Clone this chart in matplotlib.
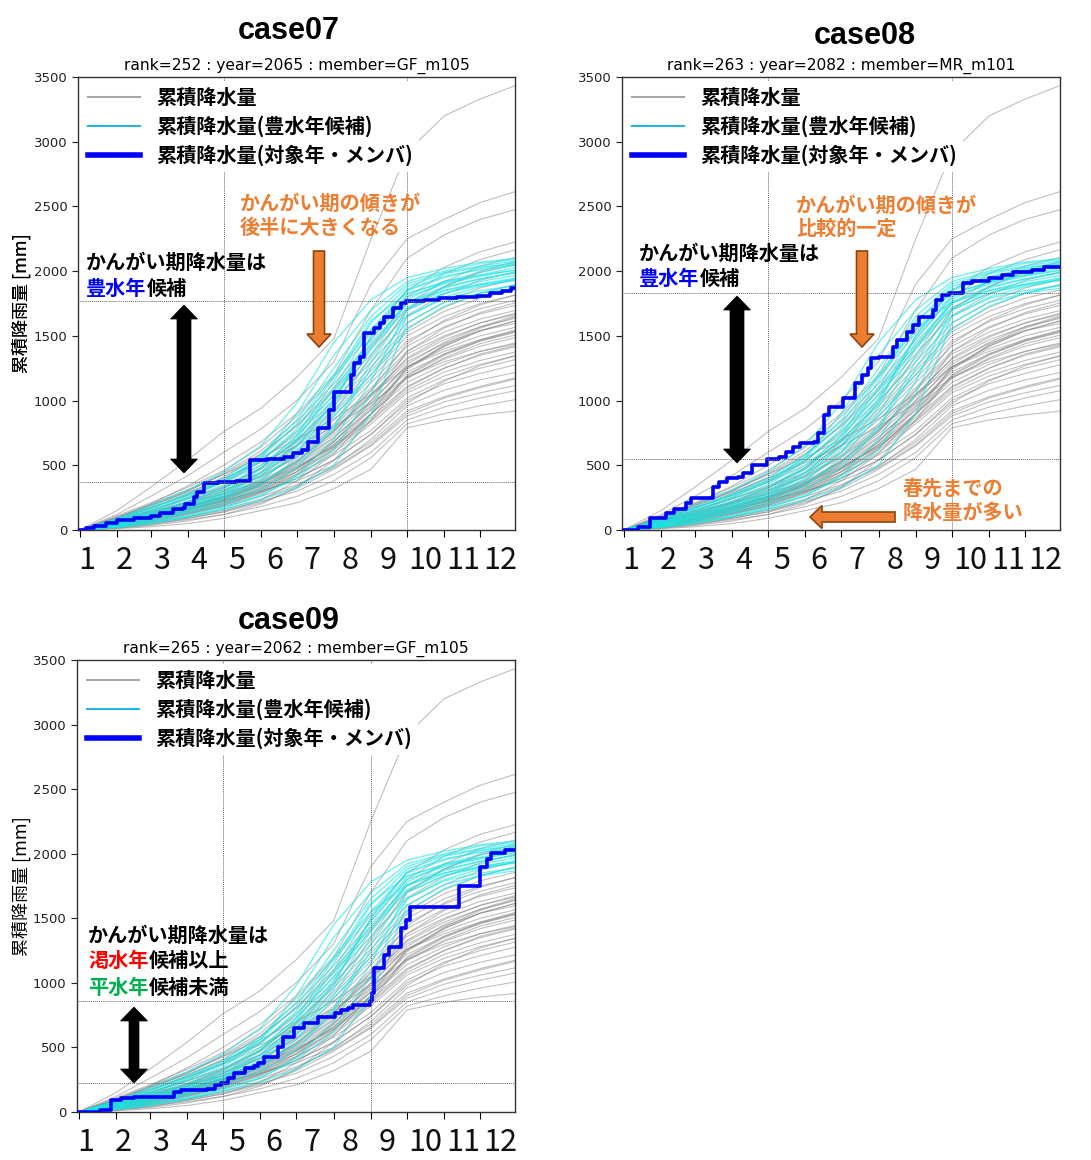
import numpy as np
import matplotlib
matplotlib.use("Agg")
import matplotlib.pyplot as plt
from matplotlib.lines import Line2D
from matplotlib.patches import Polygon
from matplotlib.text import Annotation

W, H = 1091, 1160
JP = ['Noto Sans CJK JP', 'DejaVu Sans']

# ---- axis layout data -------------------------------------------------------
MONTH_START = [0, 31, 59, 90, 120, 151, 181, 212, 243, 273, 304, 334, 365]
MONTH_LABELS = [str(m) for m in range(1, 13)]
Y_TICKS = [0, 500, 1000, 1500, 2000, 2500, 3000, 3500]

# ---- ensemble: cumulative precipitation [mm] at each month start -----------
GRAY_MEMBERS = [
    [0, 10, 25, 50, 90, 150, 210, 320, 470, 790, 850, 890, 920],
    [0, 20, 45, 80, 120, 180, 260, 380, 560, 820, 900, 960, 1010],
    [0, 30, 60, 100, 150, 220, 300, 430, 600, 850, 950, 1020, 1080],
    [0, 15, 40, 90, 140, 210, 320, 470, 650, 880, 990, 1060, 1120],
    [0, 40, 80, 130, 180, 260, 350, 480, 660, 900, 1020, 1100, 1170],
    [0, 60, 110, 170, 230, 300, 380, 500, 680, 920, 1030, 1110, 1180],
    [0, 25, 55, 100, 160, 240, 340, 490, 700, 960, 1080, 1160, 1220],
    [0, 35, 75, 140, 200, 290, 400, 540, 740, 1000, 1130, 1210, 1280],
    [0, 50, 100, 160, 220, 310, 430, 580, 770, 1020, 1160, 1250, 1320],
    [0, 20, 60, 120, 190, 280, 420, 600, 820, 1060, 1190, 1280, 1350],
    [0, 45, 90, 150, 230, 330, 450, 620, 840, 1080, 1220, 1310, 1380],
    [0, 40, 80, 140, 210, 300, 400, 540, 740, 980, 1150, 1270, 1350],
    [0, 100, 190, 290, 400, 520, 650, 800, 980, 1180, 1300, 1380, 1440],
    [0, 60, 120, 190, 260, 360, 480, 650, 870, 1110, 1250, 1350, 1420],
    [0, 30, 70, 130, 210, 320, 470, 660, 900, 1140, 1280, 1380, 1450],
    [0, 80, 140, 210, 280, 370, 490, 640, 850, 1100, 1250, 1360, 1430],
    [0, 55, 110, 180, 250, 350, 500, 690, 930, 1180, 1320, 1420, 1490],
    [0, 40, 90, 160, 240, 360, 520, 720, 960, 1220, 1360, 1460, 1530],
    [0, 90, 180, 300, 430, 560, 700, 860, 1050, 1260, 1380, 1470, 1540],
    [0, 70, 130, 200, 280, 380, 530, 740, 1000, 1260, 1400, 1500, 1570],
    [0, 15, 35, 70, 120, 200, 330, 540, 850, 1200, 1360, 1470, 1550],
    [0, 35, 85, 150, 230, 350, 540, 760, 1030, 1300, 1440, 1540, 1600],
    [0, 65, 130, 210, 300, 410, 560, 770, 1050, 1320, 1470, 1570, 1640],
    [0, 25, 50, 90, 140, 230, 380, 590, 900, 1260, 1420, 1540, 1620],
    [0, 50, 100, 170, 260, 390, 580, 800, 1080, 1360, 1500, 1600, 1670],
    [0, 80, 150, 240, 330, 440, 600, 820, 1100, 1380, 1530, 1630, 1700],
    [0, 45, 95, 160, 240, 340, 480, 680, 950, 1250, 1430, 1560, 1650],
    [0, 65, 120, 180, 250, 340, 470, 660, 930, 1240, 1420, 1540, 1620],
    [0, 40, 85, 150, 220, 320, 450, 640, 890, 1170, 1330, 1440, 1510],
    [0, 70, 140, 220, 310, 420, 570, 780, 1040, 1330, 1490, 1600, 1680],
    [0, 30, 65, 120, 190, 290, 430, 630, 900, 1190, 1350, 1460, 1540],
    [0, 55, 105, 170, 250, 360, 510, 710, 980, 1280, 1450, 1570, 1660],
    [0, 45, 100, 180, 280, 420, 620, 850, 1140, 1420, 1570, 1670, 1740],
    [0, 75, 150, 240, 340, 470, 650, 880, 1170, 1460, 1610, 1710, 1780],
    [0, 60, 120, 200, 300, 450, 660, 910, 1200, 1500, 1650, 1750, 1820],
    [0, 90, 170, 270, 370, 500, 680, 930, 1230, 1530, 1690, 1790, 1860],
    [0, 55, 120, 210, 320, 480, 700, 960, 1260, 1560, 1720, 1830, 1900],
    [0, 85, 170, 270, 390, 540, 740, 1000, 1300, 1600, 1760, 1870, 1940],
    [0, 30, 70, 130, 200, 300, 450, 680, 1000, 1380, 1560, 1680, 1760],
    [0, 50, 110, 180, 260, 370, 530, 760, 1080, 1440, 1620, 1740, 1820],
    [0, 70, 150, 250, 370, 530, 760, 1040, 1360, 1660, 1820, 1930, 2000],
    [0, 100, 200, 310, 430, 590, 800, 1080, 1400, 1710, 1880, 1990, 2060],
    [0, 80, 170, 280, 410, 580, 810, 1100, 1430, 1750, 1920, 2040, 2110],
    [0, 95, 190, 300, 440, 610, 840, 1130, 1470, 1800, 1980, 2090, 2170],
    [0, 110, 210, 330, 460, 640, 880, 1180, 1520, 1850, 2030, 2150, 2230],
    [0, 60, 130, 220, 330, 480, 690, 980, 1330, 1700, 1880, 2000, 2080],
    [0, 150, 330, 540, 760, 940, 1180, 1480, 2250, 2920, 3200, 3330, 3440],
    [0, 120, 260, 420, 600, 780, 1000, 1300, 1900, 2250, 2400, 2530, 2620],
    [0, 90, 200, 340, 500, 680, 900, 1200, 1700, 2100, 2280, 2400, 2480],
]

# wet-year candidates (豊水年候補)
CYAN_MEMBERS = [
    [0, 60, 130, 220, 330, 500, 720, 1050, 1450, 1750, 1870, 1940, 1990],
    [0, 40, 90, 160, 250, 380, 600, 950, 1400, 1780, 1920, 1990, 2050],
    [0, 80, 170, 280, 400, 580, 850, 1250, 1650, 1900, 1990, 2040, 2080],
    [0, 30, 70, 130, 200, 310, 480, 780, 1250, 1650, 1800, 1880, 1940],
    [0, 50, 110, 190, 300, 470, 700, 1100, 1550, 1850, 1950, 2020, 2070],
    [0, 20, 50, 100, 160, 230, 330, 500, 900, 1600, 1760, 1830, 1870],
    [0, 70, 150, 250, 380, 560, 820, 1200, 1550, 1760, 1850, 1900, 1940],
    [0, 45, 100, 180, 270, 420, 650, 1000, 1500, 1820, 1920, 1970, 2010],
    [0, 90, 190, 310, 450, 650, 980, 1450, 1780, 1950, 2020, 2070, 2100],
    [0, 35, 80, 150, 240, 360, 520, 800, 1300, 1700, 1830, 1900, 1950],
    [0, 55, 120, 210, 320, 480, 730, 1150, 1600, 1880, 1980, 2030, 2060],
    [0, 25, 60, 110, 180, 270, 400, 620, 1050, 1650, 1790, 1850, 1890],
    [0, 65, 140, 240, 350, 530, 780, 1180, 1620, 1830, 1910, 1970, 2030],
    [0, 40, 95, 170, 260, 400, 600, 900, 1350, 1760, 1880, 1940, 1990],
    [0, 75, 160, 260, 370, 540, 760, 1080, 1480, 1800, 1900, 1960, 2010],
    [0, 30, 75, 140, 220, 340, 560, 880, 1200, 1550, 1730, 1830, 1900],
    [0, 85, 170, 270, 380, 560, 900, 1350, 1700, 1920, 2000, 2060, 2090],
    [0, 50, 105, 180, 280, 440, 680, 1020, 1420, 1720, 1850, 1920, 1970],
    [0, 20, 55, 105, 170, 260, 420, 700, 1150, 1700, 1830, 1890, 1930],
    [0, 60, 125, 200, 290, 440, 640, 980, 1500, 1860, 1960, 2010, 2050],
]

# ---- target year / member, step breakpoints (day of year, cumulative mm) ----
CASE07_DAYS = [0, 5, 12, 22, 31, 45, 59, 67, 78, 86, 88, 95, 98, 104, 115, 130, 142, 156,
               170, 178, 185, 190, 199, 208, 212, 226, 229, 234, 237, 245, 250, 254, 261,
               268, 272, 287, 300, 315, 331, 342, 352, 360]
CASE07_MM = [0, 15, 31, 55, 77, 95, 108, 129, 162, 170, 201, 255, 294, 363, 371, 382, 541, 547,
             564, 595, 618, 680, 788, 927, 1066, 1198, 1290, 1337, 1522, 1561, 1600, 1646, 1715,
             1754, 1770, 1777, 1790, 1800, 1810, 1831, 1845, 1870]

CASE08_DAYS = [0, 12, 22, 35, 42, 52, 56, 74, 79, 86, 95, 99, 107, 119, 129, 135, 141, 147,
               158, 162, 167, 171, 182, 192, 198, 203, 206, 212, 224, 227, 236, 241, 246,
               257, 260, 265, 271, 282, 290, 304, 315, 324, 340, 350]
CASE08_MM = [0, 23, 93, 129, 160, 206, 245, 335, 373, 400, 410, 440, 502, 545, 565, 603, 641, 670,
             682, 750, 888, 951, 1017, 1133, 1198, 1250, 1327, 1340, 1416, 1468, 1530, 1584, 1646,
             1700, 1777, 1816, 1831, 1909, 1920, 1947, 1970, 1994, 2010, 2032]

CASE09_DAYS = [0, 18, 27, 35, 46, 79, 85, 107, 113, 118, 124, 129, 138, 146, 149, 154, 166,
               170, 179, 187, 199, 213, 218, 224, 228, 242, 244, 246, 254, 258, 268, 272, 276,
               316, 334, 340, 343, 355]
CASE09_MM = [0, 15, 93, 105, 116, 155, 168, 178, 210, 224, 263, 302, 340, 353, 379, 426, 504,
             581, 651, 689, 736, 767, 787, 805, 825, 860, 920, 1115, 1215, 1280, 1423, 1485, 1590,
             1750, 1900, 1960, 2005, 2030]

CASES = [
    dict(name="case07", rank=252, year=2065, member="GF_m105",
         days=CASE07_DAYS, mm=CASE07_MM, irrigation=(120, 273)),
    dict(name="case08", rank=263, year=2082, member="MR_m101",
         days=CASE08_DAYS, mm=CASE08_MM, irrigation=(120, 273)),
    dict(name="case09", rank=265, year=2062, member="GF_m105",
         days=CASE09_DAYS, mm=CASE09_MM, irrigation=(120, 243)),
]

LEGEND_LABELS = ["累積降水量", "累積降水量(豊水年候補)", "累積降水量(対象年・メンバ)"]

# ---- styling ---------------------------------------------------------------
GRAY = "gray"
CYAN = "#19e6e6"
BLUE = "#0000ff"
ORANGE = "#ED7D31"
ORANGE_EDGE = "#8a4512"
RED = "#ff0000"
GREEN = "#00b050"

# axes rectangles in pixels: left, top, right, bottom
AX_PX = [(78, 77, 515, 530), (622, 77, 1060, 530), (77, 660, 515, 1112)]
TITLE_PX = [(289, 31), (865, 36), (289, 621)]

fig = plt.figure(figsize=(W / 100, H / 100), dpi=100)


def fxy(x, y):
    return x / W, 1 - y / H


def step_value(days, mm, d):
    idx = np.searchsorted(days, d, side="right") - 1
    return mm[max(idx, 0)]


def vert_arrow(xc, ytop, ybot, shaft, head, head_len, double, face, edge, lw):
    s, h = shaft / 2, head / 2
    if double:
        pts = [(xc, ytop), (xc + h, ytop + head_len), (xc + s, ytop + head_len),
               (xc + s, ybot - head_len), (xc + h, ybot - head_len), (xc, ybot),
               (xc - h, ybot - head_len), (xc - s, ybot - head_len),
               (xc - s, ytop + head_len), (xc - h, ytop + head_len)]
    else:
        pts = [(xc - s, ytop), (xc + s, ytop), (xc + s, ybot - head_len),
               (xc + h, ybot - head_len), (xc, ybot), (xc - h, ybot - head_len),
               (xc - s, ybot - head_len)]
    fig.add_artist(Polygon([fxy(*p) for p in pts], closed=True, transform=fig.transFigure,
                           facecolor=face, edgecolor=edge, linewidth=lw, zorder=10))


def left_arrow(xtip, xtail, yc, shaft, head, head_len, face, edge, lw):
    s, h = shaft / 2, head / 2
    pts = [(xtip, yc), (xtip + head_len, yc - h), (xtip + head_len, yc - s),
           (xtail, yc - s), (xtail, yc + s), (xtip + head_len, yc + s),
           (xtip + head_len, yc + h)]
    fig.add_artist(Polygon([fxy(*p) for p in pts], closed=True, transform=fig.transFigure,
                           facecolor=face, edgecolor=edge, linewidth=lw, zorder=10))


def rich_text(x, y, parts, size=14.5):
    """One line of text made of differently coloured pieces."""
    prev = None
    for text, color in parts:
        if prev is None:
            prev = fig.text(*fxy(x, y), text, color=color, family=JP, fontsize=size,
                            fontweight="bold", ha="left", va="center", zorder=11)
        else:
            prev = fig.add_artist(Annotation(
                text, xy=(1, 0), xycoords=prev, color=color, family=JP, fontsize=size,
                fontweight="bold", ha="left", va="bottom", zorder=11))
    return prev


label_x = np.linspace(5.5, 351, 12)

for case, (l, t, r, b), (tx, ty) in zip(CASES, AX_PX, TITLE_PX):
    ax = fig.add_axes([l / W, 1 - b / H, (r - l) / W, (b - t) / H])
    for vals in GRAY_MEMBERS:
        ax.plot(MONTH_START, vals, color=GRAY, lw=0.8, alpha=0.5, zorder=2)
    for vals in CYAN_MEMBERS:
        ax.plot(MONTH_START, vals, color=CYAN, lw=1.0, alpha=0.6, zorder=3)
    ax.plot(case["days"] + [366], case["mm"] + [case["mm"][-1]], color=BLUE, lw=2.6,
            drawstyle="steps-post", zorder=5)

    d0, d1 = case["irrigation"]
    for d in (d0, d1):
        ax.axvline(d, color="#666666", lw=0.7, ls=(0, (1, 1)), zorder=6)
        ax.axhline(step_value(case["days"], case["mm"], d), color="#666666", lw=0.7,
                   ls=(0, (1, 1)), zorder=6)

    ax.set_xlim(-1.5, 363)
    ax.set_ylim(0, 3500)
    ax.set_yticks(Y_TICKS)
    ax.tick_params(axis="y", labelsize=9.5, length=4, width=0.8, colors="#222222")
    ax.set_xticks(MONTH_START[:12])
    ax.set_xticklabels([])
    ax.tick_params(axis="x", which="major", length=5, width=0.8)
    ax.set_xticks(label_x, minor=True)
    ax.set_xticklabels(MONTH_LABELS, minor=True, family=JP, fontsize=22)
    ax.tick_params(axis="x", which="minor", length=0, pad=11, colors="#111111")
    for sp in ax.spines.values():
        sp.set_color("#333333")
        sp.set_linewidth(1.0)
    ax.set_ylabel("累積降雨量 [mm]", family=JP, fontsize=13)
    ax.yaxis.set_label_coords(-(l - 31) / (r - l), 0.5)
    ax.set_title(f"rank={case['rank']} : year={case['year']} : member={case['member']}",
                 fontsize=11.2, pad=5)
    fig.text(*fxy(tx, ty), case["name"], family="Liberation Sans", fontweight="bold",
             fontsize=22, ha="center", va="center")

    handles = [Line2D([], [], color="#a8a8a8", lw=1.5),
               Line2D([], [], color="#22b4e4", lw=1.5),
               Line2D([], [], color=BLUE, lw=4)]
    leg = ax.legend(handles, LEGEND_LABELS, loc="upper left", bbox_to_anchor=(0.0, 1.0),
                    prop=dict(family=JP, size=14.5, weight="bold"), frameon=True,
                    facecolor="white", edgecolor="none", framealpha=1.0, handlelength=2.6,
                    handletextpad=0.8, labelspacing=0.37, borderpad=0.3, borderaxespad=0.2)
    leg.set_zorder(8)

# case07 notes
rich_text(240, 203, [("かんがい期の傾きが", ORANGE)])
rich_text(240, 227, [("後半に大きくなる", ORANGE)])
rich_text(86, 262, [("かんがい期降水量は", "black")])
rich_text(86, 288, [("豊水年", BLUE), ("候補", "black")])
vert_arrow(319, 251, 347, 11, 24, 13, False, ORANGE, ORANGE_EDGE, 1.2)
vert_arrow(184, 305, 473, 14, 27, 14, True, "black", "black", 0.5)

# case08 notes
rich_text(796, 205, [("かんがい期の傾きが", ORANGE)])
rich_text(796, 228, [("比較的一定", ORANGE)])
rich_text(639, 253, [("かんがい期降水量は", "black")])
rich_text(639, 278, [("豊水年", BLUE), ("候補", "black")])
rich_text(903, 488, [("春先までの", ORANGE)])
rich_text(903, 512, [("降水量が多い", ORANGE)])
vert_arrow(862, 251, 347, 11, 24, 13, False, ORANGE, ORANGE_EDGE, 1.2)
vert_arrow(737, 296, 463, 14, 27, 14, True, "black", "black", 0.5)
left_arrow(810, 895, 517, 10, 23, 12, ORANGE, ORANGE_EDGE, 1.2)

# case09 notes
rich_text(88, 935, [("かんがい期降水量は", "black")])
rich_text(88, 960, [("渇水年", RED), ("候補以上", "black")])
rich_text(88, 987, [("平水年", GREEN), ("候補未満", "black")])
vert_arrow(134, 1007, 1083, 10, 27, 14, True, "black", "black", 0.5)

fig.savefig("out.png", dpi=100, facecolor="white")
